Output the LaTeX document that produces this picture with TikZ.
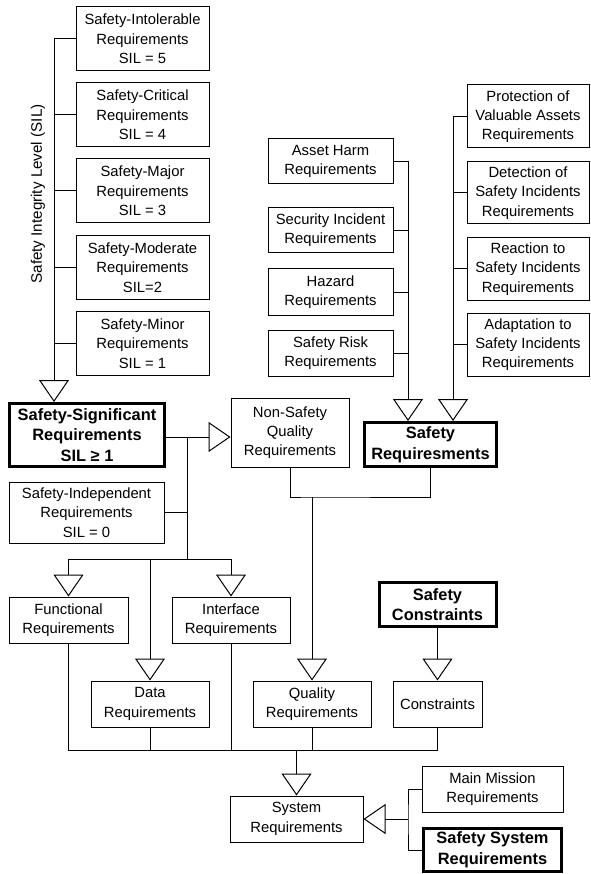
\documentclass[tikz,border=0pt]{standalone}
\usepackage{fontspec}
\setmainfont{Liberation Sans}
\usetikzlibrary{arrows.meta}

\begin{document}
\begin{tikzpicture}[x=1pt, y=-1pt, line width=1pt,
  req/.style={draw, line width=1pt, align=center, inner sep=0pt, font=\fontsize{14.8}{19.3}\selectfont},
  key/.style={req, line width=3pt, font=\fontsize{16.4}{20.7}\selectfont\bfseries},
  wh/.style 2 args={minimum width=#1pt, minimum height=#2pt},
  tri/.style={-{Triangle[open, length=22pt, width=30pt]}}]
\useasboundingbox (0,0) rectangle (590,874);

% safety integrity levels
\node[req, wh={133}{64}] (sil5) at (142.5,39) {Safety-Intolerable\\Requirements\\SIL = 5};
\node[req, wh={133}{64}] (sil4) at (142.5,115) {Safety-Critical\\Requirements\\SIL = 4};
\node[req, wh={133}{64}] (sil3) at (142.5,191) {Safety-Major\\Requirements\\SIL = 3};
\node[req, wh={133}{64}] (sil2) at (142.5,267.5) {Safety-Moderate\\Requirements\\SIL=2};
\node[req, wh={133}{64}] (sil1) at (142.5,343.5) {Safety-Minor\\Requirements\\SIL = 1};
\node[rotate=90, font=\fontsize{15.2}{18}\selectfont] (sillabel) at (38,194) {Safety Integrity Level (SIL)};
\node[key, wh={155}{63}] (sig) at (87,435) {Safety-Significant\\Requirements\\SIL ≥ 1};
\node[req, wh={155}{61}] (indep) at (86.5,512.5) {Safety-Independent\\Requirements\\SIL = 0};

% safety requirement sources
\node[req, wh={125}{45}] (asset) at (330.5,161.5) {Asset Harm\\Requirements};
\node[req, wh={125}{45}] (secur) at (330.5,230.5) {Security Incident\\Requirements};
\node[req, wh={125}{46}] (hazard) at (330.5,292) {Hazard\\Requirements};
\node[req, wh={125}{46}] (risk) at (330.5,353) {Safety Risk\\Requirements};
\node[req, wh={122}{63}] (protect) at (528,116.5) {Protection of\\Valuable Assets\\Requirements};
\node[req, wh={122}{62}] (detect) at (528,193) {Detection of\\Safety Incidents\\Requirements};
\node[req, wh={122}{62}] (react) at (528,269) {Reaction to\\Safety Incidents\\Requirements};
\node[req, wh={122}{63}] (adapt) at (528,344.5) {Adaptation to\\Safety Incidents\\Requirements};
\node[req, wh={118}{69}] (nonsafety) at (290,432.5) {Non-Safety\\Quality\\Requirements};
\node[key, wh={132}{44}] (safereq) at (430.5,444.5) {Safety\\Requiresments};

% requirement kinds
\node[req, wh={119}{46}] (func) at (68.5,620) {Functional\\Requirements};
\node[req, wh={118}{46}] (iface) at (231,620) {Interface\\Requirements};
\node[req, wh={118}{46}] (data) at (150,704) {Data\\Requirements};
\node[req, wh={118}{46}] (quality) at (312,704) {Quality\\Requirements};
\node[key, wh={117}{44}] (scons) at (437.5,604.5) {Safety\\Constraints};
\node[req, wh={89}{46}] (cons) at (437.5,704) {Constraints};
\node[req, wh={133}{46}] (system) at (296.5,819) {System\\Requirements};
\node[req, wh={141}{46}] (mission) at (492.5,789) {Main Mission\\Requirements};
\node[key, wh={138}{43}] (ssys) at (492.5,850) {Safety System\\Requirements};

\coordinate (silbus) at (54,0);
\coordinate (sigbus) at (187,437);
\coordinate (devbus) at (187,559);
\coordinate (hazbus) at (408,0);
\coordinate (incbus) at (453,0);
\coordinate (qj) at (311,497);
\coordinate (sysbus) at (297,750);
\coordinate (ssbus) at (408,819);

\draw (sil5.west) -- (sil5.west -| silbus);
\draw (sil4.west) -- (sil4.west -| silbus);
\draw (sil3.west) -- (sil3.west -| silbus);
\draw (sil2.west) -- (sil2.west -| silbus);
\draw (sil1.west) -- (sil1.west -| silbus);
\draw[tri] (sil5.west -| silbus) -- (silbus |- sig.north);

\draw[tri] (sig.east |- sigbus) -- (nonsafety.west |- sigbus);
\draw (sigbus) -- (devbus);
\draw (indep.east) -- (indep.east -| devbus);
\draw[tri] (devbus) -| (func.north);
\draw[tri] (devbus) -| (iface.north);
\draw[tri] (data.north |- devbus) -- (data.north);

\draw (asset.east) -- (asset.east -| hazbus);
\draw (secur.east) -- (secur.east -| hazbus);
\draw (hazard.east) -- (hazard.east -| hazbus);
\draw (risk.east) -- (risk.east -| hazbus);
\draw[tri] (asset.east -| hazbus) -- (hazbus |- safereq.north);
\draw (protect.west) -- (protect.west -| incbus);
\draw (detect.west) -- (detect.west -| incbus);
\draw (react.west) -- (react.west -| incbus);
\draw (adapt.west) -- (adapt.west -| incbus);
\draw[tri] (protect.west -| incbus) -- (incbus |- safereq.north);

\draw (nonsafety.south) |- (qj) -| (safereq.south);
\draw[tri] (quality.north |- qj) -- (quality.north);
\draw[tri] (cons.north |- scons.south) -- (cons.north);

\draw (func.south) |- (cons.south |- sysbus) -- (cons.south);
\draw (data.south) -- (data.south |- sysbus);
\draw (iface.south) -- (iface.south |- sysbus);
\draw (quality.south) -- (quality.south |- sysbus);
\draw[tri] (system.north |- sysbus) -- (system.north);

\draw (mission.west) -| (ssbus) |- (ssys.west);
\draw[tri] (ssbus) -- (system.east |- ssbus);
\end{tikzpicture}
\end{document}
